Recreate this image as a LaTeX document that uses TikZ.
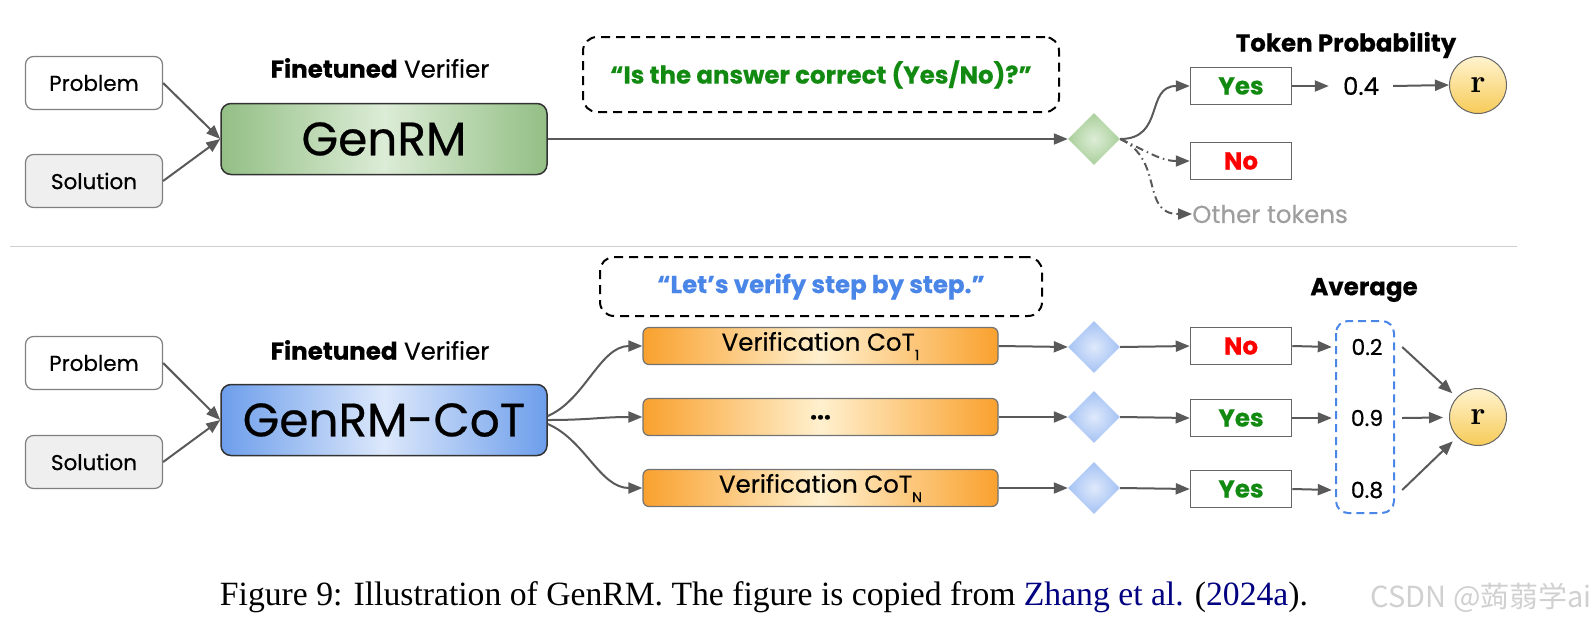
\documentclass[tikz,border=0pt]{standalone}
\usepackage{fontspec}
\usepackage{graphicx}
\setsansfont{Poppins}[FakeBold=0.5]
\newfontfamily\capfont{Liberation Serif}
\newfontfamily\cjkfont{Noto Sans CJK SC}
\usetikzlibrary{arrows.meta,shapes.geometric}
\definecolor{arrgray}{HTML}{595959}
\definecolor{inbord}{HTML}{7F7F7F}
\definecolor{ynbord}{HTML}{666666}
\definecolor{solfill}{HTML}{EFEFEF}
\definecolor{gtext}{HTML}{128A12}
\definecolor{rtext}{HTML}{FF0000}
\definecolor{btext}{HTML}{4A86E8}
\definecolor{gedge}{HTML}{93BF85}
\definecolor{gmid}{HTML}{DCECD6}
\definecolor{bedge}{HTML}{6D9EEB}
\definecolor{bmid}{HTML}{DCE8FB}
\definecolor{oedge}{HTML}{F9A12E}
\definecolor{omid}{HTML}{FFF0CE}
\definecolor{gdout}{HTML}{A9CF9A}
\definecolor{gdin}{HTML}{DDEDD7}
\definecolor{bdout}{HTML}{A4C2F4}
\definecolor{bdin}{HTML}{DFE9FB}
\definecolor{rtop}{HTML}{FFF3CF}
\definecolor{rbot}{HTML}{F7CB58}
\definecolor{sepgray}{HTML}{CFCFCF}
\definecolor{othergray}{HTML}{9E9E9E}
\definecolor{linkblue}{HTML}{000080}
\definecolor{wmgray}{HTML}{D0D0D0}
\tikzset{
  inbox/.style={draw=inbord, line width=1.2pt, rounded corners=8pt,
    minimum width=137pt, minimum height=53pt, inner sep=0pt,
    font=\sffamily\fontsize{21.5}{24}\selectfont},
  bigbox/.style={draw=black!80, line width=1.5pt, rounded corners=10pt,
    minimum width=326pt, minimum height=71pt, inner sep=0pt,
    shading=axis, shading angle=90,
    font=\sffamily\fontsize{47}{52}\selectfont},
  greenbox/.style={bigbox, left color=gedge, right color=gedge, middle color=gmid},
  bluebox/.style={bigbox, left color=bedge, right color=bedge, middle color=bmid},
  cotbox/.style={draw=black!55, line width=1.2pt, rounded corners=6pt,
    minimum width=355pt, minimum height=37pt, inner sep=0pt,
    left color=oedge, right color=oedge, middle color=omid,
    font=\sffamily\fontsize{24.5}{28}\selectfont},
  qbox/.style={draw=black, line width=2pt, dash pattern=on 9pt off 6pt,
    rounded corners=14pt, inner sep=0pt},
  gdiam/.style={diamond, minimum width=52pt, minimum height=52pt, inner sep=0pt,
    inner color=gdin, outer color=gdout},
  bdiam/.style={diamond, minimum width=52pt, minimum height=52pt, inner sep=0pt,
    inner color=bdin, outer color=bdout},
  ynbox/.style={draw=ynbord, line width=1.5pt, minimum width=101pt, minimum height=37pt,
    inner sep=0pt, font=\sffamily\bfseries\fontsize{24.5}{28}\selectfont},
  rcirc/.style={circle, draw=ynbord, line width=1pt, minimum size=57pt, inner sep=0pt,
    top color=rtop, bottom color=rbot, font=\rmfamily\bfseries\fontsize{33}{35}\selectfont},
  lbl/.style={inner sep=0pt, font=\sffamily\fontsize{24.5}{28}\selectfont},
  blbl/.style={inner sep=0pt, font=\sffamily\bfseries\fontsize{24.5}{28}\selectfont},
  val/.style={inner sep=0pt, minimum width=70pt, minimum height=30pt, font=\sffamily\fontsize{22}{25}\selectfont},
  arr/.style={draw=arrgray, line width=2pt, -{Triangle[length=14pt,width=11pt]}},
  darr/.style={arr, dash pattern=on 8pt off 4pt on 1.5pt off 4pt},
}
\newcommand{\subsc}[1]{\raisebox{-0.38em}{\fontsize{14}{14}\selectfont #1}}
\begin{document}
\begin{tikzpicture}[x=1pt,y=-1pt]
\useasboundingbox (0,0) rectangle (1589,627);
% ---------- top ----------
\node[inbox] (p1) at (94,83) {Problem};
\node[inbox, fill=solfill] (s1) at (94,181) {Solution};
\node[lbl] (fv1) at (380,68) {\textbf{Finetuned} Verifier};
\node[greenbox] (g1) at (384,139) {GenRM};
\node[qbox, minimum width=476pt, minimum height=75pt] (q1) at (821,74.5) {};
\node[blbl, text=gtext] (q1t) at (q1) {“Is the answer correct (Yes/No)?”};
\node[gdiam] (d1) at (1094,139) {};
\node[ynbox, text=gtext] (y1) at (1241,86) {Yes};
\node[ynbox, text=rtext] (n1) at (1241,161) {No};
\node[lbl, anchor=west, text=othergray] (ot) at (1192,214) {Other tokens};
\node[lbl, minimum width=64pt] (pr) at (1361,86) {0.4};
\node[rcirc] (r1) at (1478,85) {r};
\node[blbl] (tp) at (1346,45) {Token Probability};
\draw[arr] (p1.east) -- (g1.west);
\draw[arr] (s1.east) -- (g1.west);
\draw[arr] (g1.east) -- (d1.west);
\draw[arr] (d1.east) .. controls (1165,139) and (1145,86) .. (y1.west);
\draw[darr] (d1.east) .. controls (1145,150) and (1160,161) .. (n1.west);
\draw[darr] (d1.east) .. controls (1165,160) and (1140,214) .. (ot.west);
\draw[arr] (y1.east) -- (pr.west);
\draw[arr] (pr.east) -- (r1.west);
% separator
\draw[sepgray, line width=1pt] (10,246) -- (1517,246);
% ---------- bottom ----------
\node[inbox] (p2) at (94,363) {Problem};
\node[inbox, fill=solfill] (s2) at (94,462) {Solution};
\node[lbl] (fv2) at (380,350) {\textbf{Finetuned} Verifier};
\node[bluebox] (g2) at (384,420) {GenRM-CoT};
\node[qbox, minimum width=442pt, minimum height=59pt] (q2) at (821,286.5) {};
\node[blbl, text=btext] (q2t) at (q2) {“Let’s verify step by step.”};
\node[cotbox] (o1) at (820.5,346) {Verification CoT\subsc{1}};
\node[cotbox] (o2) at (820.5,417) {\raisebox{-0.2em}{\textbf{...}}};
\node[cotbox] (o3) at (820.5,488) {Verification CoT\subsc{N}};
\node[bdiam] (e1) at (1094,347) {};
\node[bdiam] (e2) at (1094,417) {};
\node[bdiam] (e3) at (1094,488) {};
\node[ynbox, text=rtext] (b1) at (1241,346) {No};
\node[ynbox, text=gtext] (b2) at (1241,418) {Yes};
\node[ynbox, text=gtext] (b3) at (1241,489) {Yes};
\node[val] (v1) at (1367,347) {0.2};
\node[val] (v2) at (1367,418) {0.9};
\node[val] (v3) at (1367,490) {0.8};
\draw[btext, line width=2pt, dash pattern=on 8pt off 5pt, rounded corners=12pt] (1336,321) rectangle (1394,513);
\node[blbl] (av) at (1364,290) {Average};
\node[rcirc] (r2) at (1478,417) {r};
\draw[arr] (p2.east) -- (g2.west);
\draw[arr] (s2.east) -- (g2.west);
\draw[arr] ([yshift=4pt]g2.east) .. controls (585,400) and (600,346) .. (o1.west);
\draw[arr] (g2.east) .. controls (590,420) and (600,417) .. (o2.west);
\draw[arr] ([yshift=-4pt]g2.east) .. controls (585,440) and (600,488) .. (o3.west);
\foreach \i in {1,2,3}{
  \draw[arr] (o\i.east) -- (e\i.west);
  \draw[arr] (e\i.east) -- (b\i.west);
  \draw[arr] (b\i.east) -- (v\i.west);
  \draw[arr, shorten >=6pt] (v\i.east) -- (r2);
}
% ---------- caption ----------
\node[inner sep=0pt] (cap) at (764,597) {\resizebox{1088pt}{\height}{\capfont\fontsize{34}{40}\selectfont Figure 9: Illustration of GenRM. The figure is copied from \textcolor{linkblue}{Zhang et al.} (\textcolor{linkblue}{2024a}).}};
\node[inner sep=0pt, anchor=east, text=wmgray] (wm) at (1592,598) {\cjkfont\fontsize{29}{32}\selectfont CSDN @蒟蒻学ai};
\end{tikzpicture}
\end{document}
